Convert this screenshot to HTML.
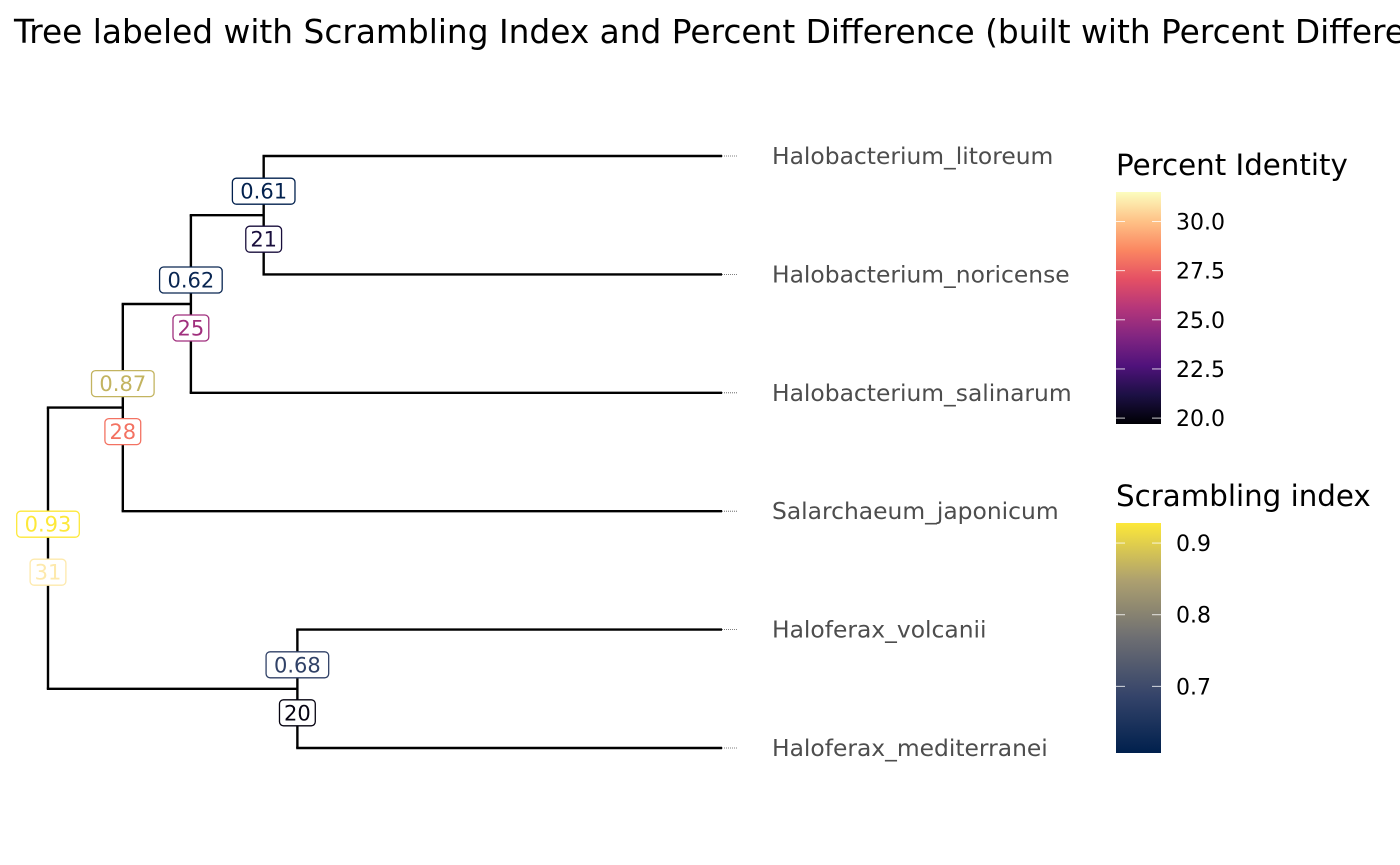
<!DOCTYPE html>
<html><head><meta charset="utf-8"><style>
html,body{margin:0;padding:0;background:#fff;overflow:hidden}
svg{display:block;font-family:"DejaVu Sans","Liberation Sans",sans-serif}
</style></head><body>
<svg id="chart" width="1400" height="865" viewBox="0 0 1400 865">
<defs>
<linearGradient id="magma" x1="0" y1="1" x2="0" y2="0">
<stop offset="0" stop-color="#000004"/><stop offset="0.125" stop-color="#1c1044"/><stop offset="0.25" stop-color="#4f127b"/><stop offset="0.375" stop-color="#812581"/><stop offset="0.5" stop-color="#b5367a"/><stop offset="0.625" stop-color="#e55064"/><stop offset="0.75" stop-color="#fb8761"/><stop offset="0.875" stop-color="#fec287"/><stop offset="1" stop-color="#fcfdbf"/>
</linearGradient>
<linearGradient id="cividis" x1="0" y1="1" x2="0" y2="0">
<stop offset="0" stop-color="#00204d"/><stop offset="0.25" stop-color="#35446a"/><stop offset="0.5" stop-color="#6d6e72"/><stop offset="0.75" stop-color="#ada06f"/><stop offset="1" stop-color="#fde839"/>
</linearGradient>
</defs>
<text x="14" y="43" font-size="32.8" fill="#000">Tree labeled with Scrambling Index and Percent Difference (built with Percent Difference)</text>
<g id="tree"></g>
<g id="legend"></g>
</svg>
<script>
const tipNames = ["Halobacterium_litoreum","Halobacterium_noricense","Halobacterium_salinarum","Salarchaeum_japonicum","Haloferax_volcanii","Haloferax_mediterranei"];
const tipDepth = [1,1,1,1,1,1];
// internal nodes: children indices (tips 0-5, nodes 6+)
const nodeChildren = [[0,1],[6,2],[7,3],[4,5],[8,9]];
const nodeDepth = [0.320,0.212,0.111,0.370,0];
const nodeScramble = [0.61,0.62,0.87,0.68,0.93];
const nodeIdentity = [21,25,28,20,31];
const siTicks = [0.7,0.8,0.9];
const piTicks = [20.0,22.5,25.0,27.5,30.0];

const NS="http://www.w3.org/2000/svg";
const X0=48,X1=722;
const xs=d=>X0+d*(X1-X0);
const ys=i=>156+i*118.4;
function el(tag,attrs,parent){const e=document.createElementNS(NS,tag);for(const k in attrs)e.setAttribute(k,attrs[k]);parent.appendChild(e);return e;}
function lerpStops(stops,t){t=Math.max(0,Math.min(1,t));for(let i=1;i<stops.length;i++){if(t<=stops[i][0]){const a=stops[i-1],b=stops[i];const f=(t-a[0])/(b[0]-a[0]);const c1=a[1],c2=b[1];const r=[0,1,2].map(j=>Math.round(parseInt(c1.substr(1+2*j,2),16)*(1-f)+parseInt(c2.substr(1+2*j,2),16)*f));return "rgb("+r.join(",")+")";}}return stops[stops.length-1][1];}
const magma=[[0,"#000004"],[0.125,"#1c1044"],[0.25,"#4f127b"],[0.375,"#812581"],[0.5,"#b5367a"],[0.625,"#e55064"],[0.75,"#fb8761"],[0.875,"#fec287"],[1,"#fcfdbf"]];
const cividis=[[0,"#00204d"],[0.25,"#35446a"],[0.5,"#6d6e72"],[0.75,"#ada06f"],[1,"#fde839"]];
const PI_MIN=19.7,PI_MAX=31.5,SI_MIN=0.607,SI_MAX=0.928;
const tree=document.getElementById("tree");
const pos=[];
tipNames.forEach((n,i)=>pos.push([xs(tipDepth[i]),ys(i)]));
nodeChildren.forEach((ch,k)=>{const y=(pos[ch[0]][1]+pos[ch[1]][1])/2;pos.push([xs(nodeDepth[k]),y]);});
nodeChildren.forEach((ch,k)=>{
  const p=pos[6+k];
  const a=pos[ch[0]],b=pos[ch[1]];
  const v=el("line",{x1:p[0],y1:a[1],x2:p[0],y2:b[1],stroke:"#000","stroke-width":2.4},tree);
  
  
  [a,b].forEach(c=>{const h=el("line",{x1:p[0]-1.2,y1:c[1],x2:c[0],y2:c[1],stroke:"#000","stroke-width":2.4},tree);
    
    });
});
tipNames.forEach((n,i)=>{
  const d=el("line",{x1:X1,y1:ys(i),x2:X1+15,y2:ys(i),stroke:"#555","stroke-width":0.8,"stroke-dasharray":"1 1"},tree);
  
  
  const t=el("text",{x:772,y:ys(i)+8,"font-size":23.4,fill:"#4d4d4d"},tree);
  t.textContent=n;
  
  
});
function label(x,y,txt,color,name){
  const w=txt.length*13.4+9;
  const r=el("rect",{x:x-w/2,y:y-13,width:w,height:26,rx:4,fill:"#fff",stroke:color,"stroke-width":1.3},tree);
  
  
  const t=el("text",{x:x,y:y+7.5,"font-size":21,fill:color,"text-anchor":"middle"},tree);
  t.textContent=txt;
  
  
}
nodeChildren.forEach((ch,k)=>{
  const p=pos[6+k];
  label(p[0],p[1]-24,nodeScramble[k].toFixed(2),lerpStops(cividis,(nodeScramble[k]-SI_MIN)/(SI_MAX-SI_MIN)),'scrambling-index-label');
  label(p[0],p[1]+24,String(nodeIdentity[k]),lerpStops(magma,(nodeIdentity[k]-PI_MIN)/(PI_MAX-PI_MIN)),'percent-identity-label');
});
const lg=document.getElementById("legend");
function bar(top,bot,grad,ticks,min,max,title,titleY,fmt,name){
  const t=el("text",{x:1116,y:titleY,"font-size":29.3,fill:"#000"},lg);t.textContent=title;
  
  
  const r=el("rect",{x:1116,y:top,width:45,height:bot-top,fill:"url(#"+grad+")"},lg);
  
  
  const sc=v=>bot-(v-min)/(max-min)*(bot-top);
  ticks.forEach(v=>{const y=sc(v);
    el("line",{x1:1116,y1:y,x2:1125,y2:y,stroke:"#fff","stroke-width":1,opacity:0.8},lg);
    el("line",{x1:1152,y1:y,x2:1161,y2:y,stroke:"#fff","stroke-width":1,opacity:0.8},lg);
    const l=el("text",{x:1176,y:y+8,"font-size":22,fill:"#000"},lg);l.textContent=v.toFixed(fmt);
    
    });
}
bar(192,424,"magma",piTicks,PI_MIN,PI_MAX,"Percent Identity",175,1,'percent-identity-legend');
bar(523,753,"cividis",siTicks,SI_MIN,SI_MAX,"Scrambling index",506,1,'scrambling-index-legend');
</script>
</body></html>
